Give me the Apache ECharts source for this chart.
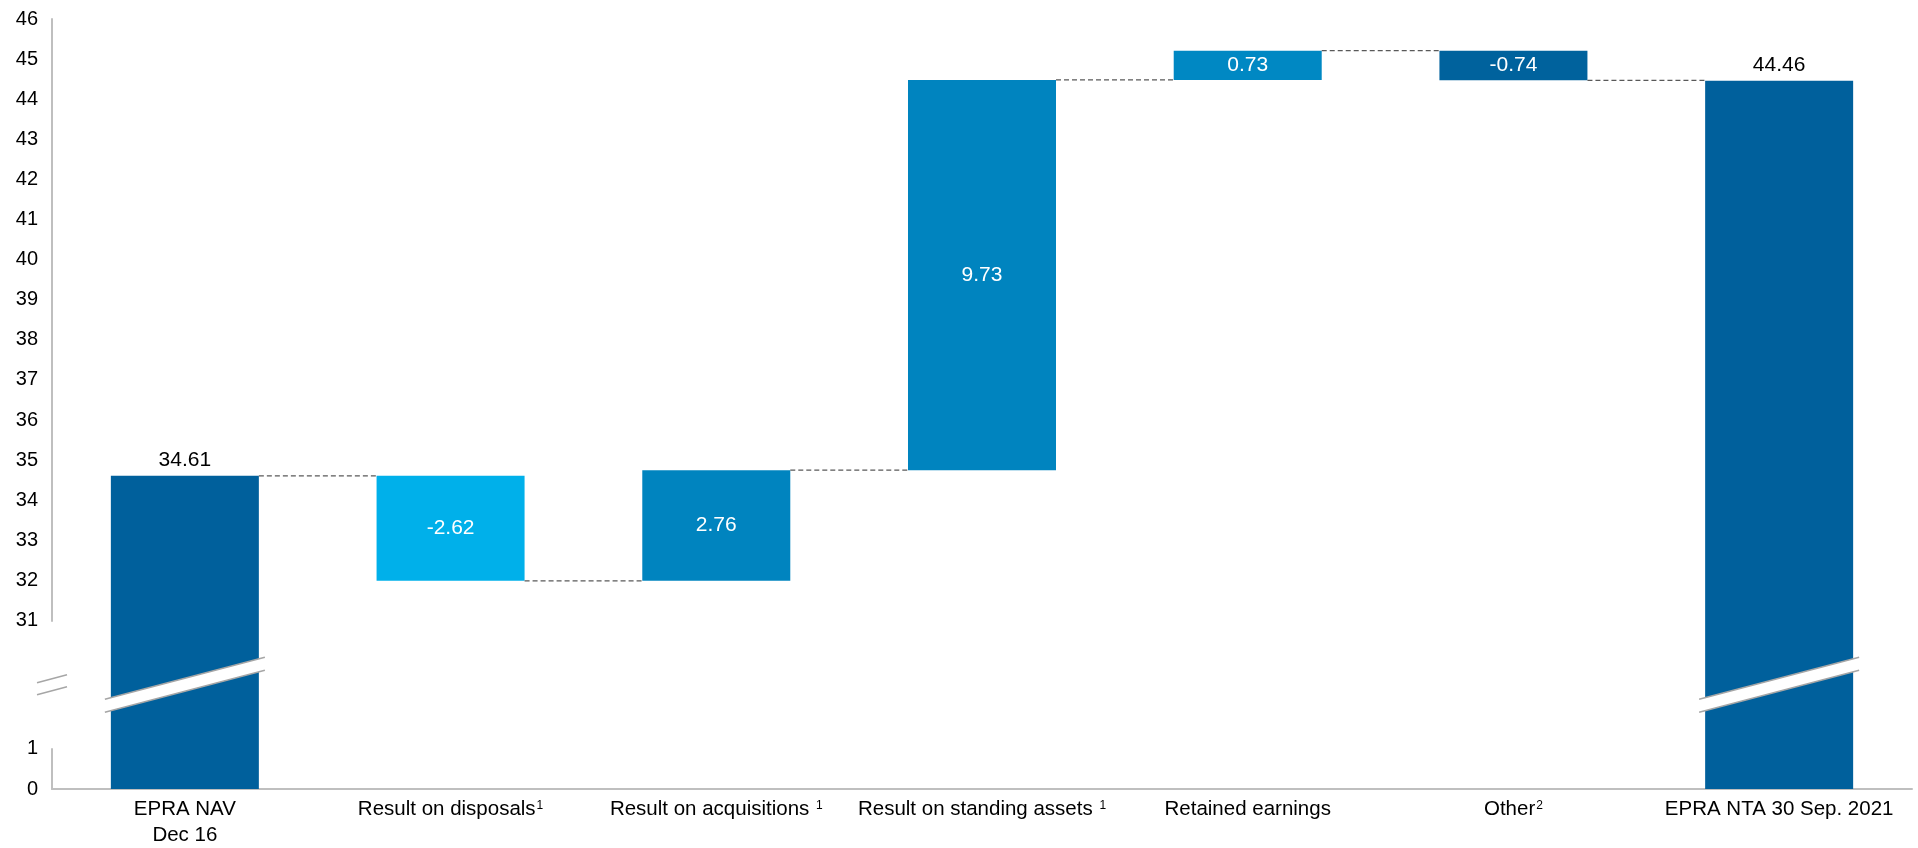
<!DOCTYPE html>
<html>
<head>
<meta charset="utf-8">
<script src="https://cdn.jsdelivr.net/npm/echarts@6/dist/echarts.min.js"></script>
<style>
  html, body { margin: 0; padding: 0; background: #fff; }
  #chart { width: 1918px; height: 848px; }
</style>
</head>
<body>
<div id="chart"></div>
<script>
// NAV bridge: opening EPRA NAV, the movements, closing EPRA NTA
const categories = [
  'EPRA NAV\nDec 16',
  'Result on disposals',
  'Result on acquisitions ',
  'Result on standing assets ',
  'Retained earnings',
  'Other',
  'EPRA NTA 30 Sep. 2021'
];
const footnotes = ['', '1', '1', '1', '', '2', ''];
const openingNav = 34.61;
const changes = [-2.62, 2.76, 9.73, 0.73, -0.74];
const closingNta = 44.46;

// value axis: 0..46 with the stretch 1..31 cut out
const axisMin = 0;
const axisMax = 46;
const axisBreakStart = 1;
const axisBreakEnd = 31;

const barColors = ['#00609C', '#00B0EA', '#0084BF', '#0084BF', '#0088C3', '#00629D', '#00609C'];
const FONT = '"Liberation Sans", Arial, sans-serif';
const BAR_SHARE = 0.557;

// waterfall: transparent base + visible step, running total for the connectors
const baseData = [0];
const stepData = [{ value: openingNav, raw: openingNav, total: true }];
const levels = [openingNav];
let running = openingNav;
changes.forEach(function (c) {
  const prev = running;
  running = Math.round((running + c) * 100) / 100;
  baseData.push(Math.min(prev, running));
  stepData.push({ value: Math.abs(c), raw: c, total: false });
  levels.push(running);
});
baseData.push(0);
stepData.push({ value: closingNta, raw: closingNta, total: true });

const stepItems = stepData.map(function (d, i) {
  return {
    value: d.value,
    raw: d.raw,
    itemStyle: { color: barColors[i] },
    label: d.total
      ? { position: 'top', color: '#000', distance: 5 }
      : { position: 'inside', color: '#fff' }
  };
});

// dashed connectors from the right edge of one bar to the left edge of the next
const connectorData = levels.slice(0, categories.length - 1).map(function (v, i) { return [i, v]; });

function slantedBand(cx, mid, halfWidth, thick, slope) {
  const xl = cx - halfWidth, xr = cx + halfWidth;
  const yAt = function (x, off) { return mid + off - slope * (x - cx); };
  const tl = [xl, yAt(xl, -thick / 2)], tr = [xr, yAt(xr, -thick / 2)];
  const bl = [xl, yAt(xl, thick / 2)], br = [xr, yAt(xr, thick / 2)];
  return [
    { type: 'polygon', shape: { points: [tl, tr, br, bl] }, style: { fill: '#fff' } },
    { type: 'polyline', shape: { points: [tl, tr] }, style: { stroke: '#A6A6A6', lineWidth: 1.5, fill: null } },
    { type: 'polyline', shape: { points: [bl, br] }, style: { stroke: '#A6A6A6', lineWidth: 1.5, fill: null } }
  ];
}

const chart = echarts.init(document.getElementById('chart'), null, { renderer: 'canvas' });

chart.setOption({
  animation: false,
  backgroundColor: '#fff',
  grid: { left: 52, right: 6, top: 19, bottom: 57 },
  xAxis: {
    type: 'category',
    data: categories,
    axisLine: { show: true, lineStyle: { color: '#BFBFBF', width: 2 } },
    axisTick: { show: false },
    axisLabel: {
      interval: 0,
      margin: 7,
      color: '#000',
      fontFamily: FONT,
      fontSize: 20.5,
      lineHeight: 26,
      formatter: function (v, i) {
        return footnotes[i] ? '{t|' + v + '}{s|' + footnotes[i] + '}' : '{t|' + v + '}';
      },
      rich: {
        t: { fontFamily: FONT, fontSize: 20.5, lineHeight: 26, color: '#000' },
        s: { fontFamily: FONT, fontSize: 12, lineHeight: 12, color: '#000', verticalAlign: 'top', padding: [4, 0, 0, 1] }
      }
    }
  },
  yAxis: {
    type: 'value',
    min: axisMin,
    max: axisMax,
    interval: 1,
    breaks: [{ start: axisBreakStart, end: axisBreakEnd, gap: 3.2 }],
    breakArea: { show: false },
    axisLine: { show: true, lineStyle: { color: '#BFBFBF', width: 2 } },
    axisTick: { show: false },
    splitLine: { show: false },
    axisLabel: { color: '#000', fontFamily: FONT, fontSize: 20, margin: 14 }
  },
  series: [
    {
      name: 'base',
      type: 'bar',
      stack: 'bridge',
      barWidth: (BAR_SHARE * 100) + '%',
      silent: true,
      itemStyle: { color: 'rgba(0,0,0,0)' },
      data: baseData
    },
    {
      name: 'movement',
      type: 'bar',
      stack: 'bridge',
      barWidth: (BAR_SHARE * 100) + '%',
      data: stepItems,
      label: {
        show: true,
        fontFamily: FONT,
        fontSize: 21,
        formatter: function (p) { return p.data.raw.toFixed(2); }
      }
    },
    {
      name: 'connectors',
      type: 'custom',
      clip: false,
      z: 5,
      data: connectorData,
      encode: { x: 0, y: 1 },
      renderItem: function (params, api) {
        const p = api.coord([api.value(0), api.value(1)]);
        const bw = api.size([1, 0])[0];
        const half = bw * BAR_SHARE / 2;
        return {
          type: 'line',
          shape: { x1: p[0] + half, y1: p[1], x2: p[0] + bw - half, y2: p[1] },
          style: { stroke: '#595959', lineWidth: 1.2, lineDash: [5, 3] }
        };
      }
    },
    {
      name: 'breakBars',
      type: 'custom',
      clip: false,
      z: 10,
      silent: true,
      data: [[0, axisBreakStart, axisBreakEnd], [categories.length - 1, axisBreakStart, axisBreakEnd]],
      encode: { x: 0, y: [1, 2] },
      renderItem: function (params, api) {
        const lo = api.coord([api.value(0), api.value(1)]);
        const hi = api.coord([api.value(0), api.value(2)]);
        const bw = api.size([1, 0])[0];
        const mid = (lo[1] + hi[1]) / 2;
        return { type: 'group', children: slantedBand(lo[0], mid, bw * BAR_SHARE / 2 + 6, 13, 0.2625) };
      }
    },
    {
      name: 'breakAxis',
      type: 'custom',
      clip: false,
      z: 10,
      silent: true,
      data: [[0, axisBreakStart, axisBreakEnd]],
      encode: { x: 0, y: [1, 2] },
      renderItem: function (params, api) {
        const lo = api.coord([api.value(0), api.value(1)]);
        const hi = api.coord([api.value(0), api.value(2)]);
        const bw = api.size([1, 0])[0];
        const mid = (lo[1] + hi[1]) / 2;
        return { type: 'group', children: slantedBand(lo[0] - bw / 2, mid, 15, 12, 0.27) };
      }
    }
  ]
});
</script>
</body>
</html>
